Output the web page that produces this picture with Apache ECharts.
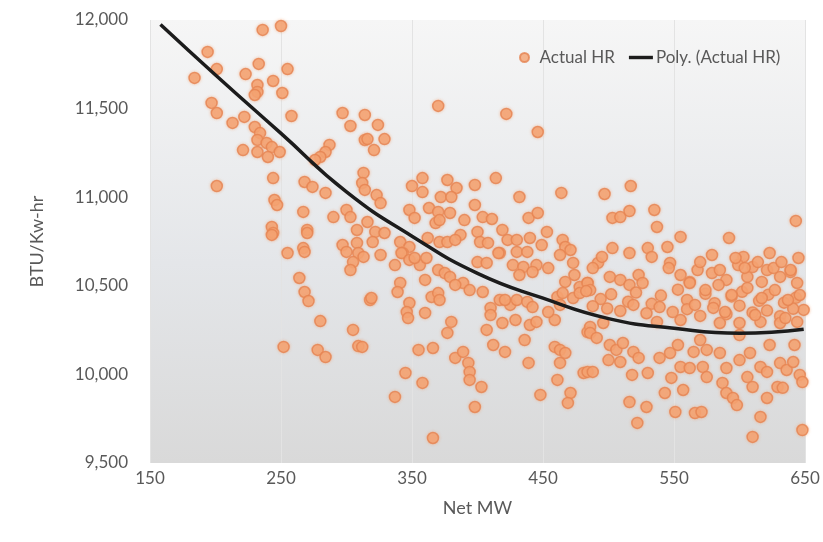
<!DOCTYPE html>
<html>
<head>
<meta charset="utf-8">
<script src="https://cdn.jsdelivr.net/npm/echarts@6/dist/echarts.min.js"></script>
<style>
  html, body { margin: 0; padding: 0; background: #fff; }
  #j_chart { width: 823px; height: 542px; }
</style>
</head>
<body>
<div id="j_chart"></div>
<script>
// scatter points (Net MW, BTU/Kw-hr)
var netMw = [
    236, 250, 194, 201, 184, 223, 233, 255, 244,
    232, 232, 230, 251, 197, 201, 213, 258, 222,
    230, 234, 232, 239, 243, 249, 232, 221, 240,
    287, 284, 280, 276, 297, 314, 303, 314,
    201, 244, 268, 274, 284, 313, 312,
    245, 247, 267, 290, 300, 303, 270, 243, 244, 308,
    243, 270, 255, 267, 268, 297, 300, 308, 309, 305, 303,
    264, 268, 271, 280, 252, 278, 284, 305, 309, 318,
    324, 316, 329, 321, 370, 422, 446, 314, 323, 326,
    350, 358, 358, 377, 384, 372, 380, 398, 414, 432, 464,
    348, 352, 363, 370, 368, 379, 371, 398, 390, 404, 411,
    419, 439, 446, 453, 465, 467, 471,
    316, 322, 329, 320, 341, 348, 343, 362, 371, 377, 387, 400, 402,
    408, 423, 430, 440, 449, 417, 430, 438,
    342, 348, 356, 361, 370, 375, 379, 326, 313, 389, 394, 383,
    341, 339, 348, 346, 347, 360, 365, 370, 319, 312,
    380, 377, 355, 366, 383, 389, 393, 394, 394, 403, 398,
    345, 358, 337, 366,
    400, 407, 416, 427, 435, 445, 442, 463, 473,
    404, 410, 417, 425, 430, 438, 442,
    407, 419, 429, 440, 445, 459, 461, 465, 473, 478, 484,
    412, 421, 439, 448, 459, 463, 467, 463, 461, 471, 469, 481, 484,
    497, 517, 503, 509, 516, 535, 537, 555, 592, 643,
    503, 492, 488, 495, 516, 530, 533, 545, 547, 546,
    603, 599, 610, 621, 626, 639, 644,
    555, 568, 579, 590, 562, 606, 617, 631,
    501, 509, 523, 526, 516, 484, 478, 486,
    483, 494, 502, 515, 521, 533, 540, 553, 560, 574, 581, 594, 602, 615, 622, 634, 643, 649,
    488, 499, 509, 519, 529, 539, 549, 560, 570, 580, 590, 600, 610, 621, 631, 641,
    486, 496, 537, 555, 585, 600, 616, 631, 644,
    486, 491, 501, 506, 511, 519, 523, 500, 509, 518, 530, 539, 547, 553, 565,
    575, 585, 590, 600, 608, 616, 621, 631, 636, 641, 646, 648,
    555, 562, 572, 575, 548, 557, 543, 587, 590, 595, 598, 606, 610, 621, 629, 633, 484, 488,
    516, 529, 522, 551, 566, 571, 616, 610, 648,
    570, 579, 585, 597, 604, 614, 623, 632, 639, 645,
    562, 574, 584, 594, 606, 617, 627, 637, 646,
    566, 589, 612, 635, 570, 600, 623, 642,
    432, 454, 467, 421, 463, 474, 410, 436, 454,
    352, 360, 337, 371, 383
];
var heatRate = [
    11944, 11966, 11820, 11723, 11673, 11695, 11752, 11723, 11656,
    11633, 11594, 11577, 11588, 11532, 11475, 11419, 11458, 11453,
    11396, 11362, 11323, 11306, 11283, 11255, 11255, 11266, 11227,
    11295, 11255, 11227, 11210, 11475, 11464, 11402, 11323,
    11063, 11108, 11086, 11058, 11024, 11137, 11080,
    10984, 10956, 10917, 10888, 10928, 10888, 10815, 10832, 10798, 10815,
    10787, 10798, 10685, 10713, 10691, 10730, 10691, 10742, 10685, 10634, 10589,
    10544, 10465, 10414, 10301, 10155, 10138, 10098, 10251, 10160, 10420,
    11408, 11328, 11328, 11266, 11515, 11470, 11368, 11041, 11012, 10967,
    11063, 11108, 11029, 11097, 11052, 11001, 11001, 11069, 11108, 11001, 11024,
    10928, 10883, 10939, 10917, 10854, 10911, 10871, 10956, 10871, 10888, 10877,
    10815, 10883, 10911, 10804, 10759, 10719, 10702,
    10860, 10804, 10798, 10747, 10747, 10719, 10685, 10770, 10747, 10747, 10787, 10804, 10747,
    10742, 10759, 10759, 10770, 10730, 10685, 10691, 10691,
    10685, 10646, 10617, 10657, 10589, 10572, 10550, 10674, 10663, 10516, 10476, 10505,
    10516, 10465, 10403, 10352, 10318, 10347, 10437, 10459, 10431, 10155,
    10296, 10234, 10138, 10149, 10093, 10127, 10065, 10014, 9969, 9929, 9816,
    10008, 9952, 9873, 9641,
    10634, 10629, 10685, 10617, 10606, 10617, 10578, 10674, 10629,
    10465, 10375, 10420, 10392, 10420, 10409, 10380,
    10251, 10290, 10307, 10279, 10296, 10307, 10437, 10459, 10431, 10493, 10516,
    10166, 10127, 10065, 9884, 10155, 10138, 10121, 10065, 9969, 9895, 9839, 10008, 10239,
    11018, 11063, 10883, 10888, 10922, 10928, 10832, 10776, 10770, 10866,
    10713, 10629, 10600, 10663, 10685, 10713, 10663, 10719, 10629, 10600,
    10663, 10617, 10606, 10589, 10600, 10578, 10516,
    10561, 10589, 10572, 10533, 10522, 10550, 10522, 10550,
    10550, 10533, 10561, 10516, 10505, 10516, 10459, 10476,
    10470, 10425, 10452, 10410, 10462, 10398, 10445, 10478, 10420, 10455, 10402, 10440, 10466, 10415, 10450, 10405, 10432, 10364,
    10385, 10372, 10358, 10392, 10345, 10380, 10352, 10368, 10330, 10375, 10340, 10388, 10350, 10360, 10328, 10370,
    10268, 10290, 10296, 10307, 10290, 10290, 10296, 10290, 10296,
    10234, 10206, 10166, 10138, 10177, 10127, 10093, 10081, 10070, 9997, 10008, 10093, 10121, 10166, 10127,
    10138, 10121, 10036, 10081, 10121, 10042, 10014, 10064, 10025, 10070, 9997, 9957,
    10042, 10036, 10042, 9985, 9980, 9912, 9895, 9952, 9895, 9867, 9827, 9985, 9929, 9867, 9929, 9924, 10014, 10014,
    9844, 9816, 9726, 9788, 9782, 9788, 9760, 9647, 9686,
    10634, 10674, 10589, 10657, 10601, 10634, 10685, 10634, 10589, 10657,
    10516, 10476, 10505, 10448, 10488, 10431, 10476, 10420, 10448,
    10392, 10352, 10335, 10318, 10194, 10222, 10166, 10166,
    10561, 10600, 10522, 10420, 10392, 10561, 10335, 10194, 10352,
    10657, 10533, 10617, 10420, 10759
];

// trend line samples
var trendMw = [158, 200, 250, 300, 350, 400, 450, 500, 550, 600, 649];
var trendHr = [11975, 11690, 11360, 11030, 10780, 10570, 10430, 10315, 10260, 10232, 10255];

var scatterData = netMw.map(function (mw, i) {
    return [mw, heatRate[i]];
});
var trendData = trendMw.map(function (mw, i) {
    return [mw, trendHr[i]];
});

var textColor = '#595959';
var fontFamily = 'Lato, "Open Sans", sans-serif';

var chart = echarts.init(document.getElementById('j_chart'));
var option = {
    backgroundColor: '#ffffff',
    animation: false,
    textStyle: { fontFamily: fontFamily },
    grid: {
        left: 150,
        right: 18,
        top: 20,
        bottom: 79,
        show: true,
        borderWidth: 0,
        backgroundColor: new echarts.graphic.LinearGradient(0, 0, 0, 1, [
            { offset: 0, color: '#f6f6f6' },
            { offset: 0.55, color: '#e4e6e9' },
            { offset: 1, color: '#d9d9d9' }
        ])
    },
    legend: {
        left: 514,
        top: 44,
        itemGap: 14,
        itemWidth: 24,
        itemHeight: 9,
        symbolKeepAspect: true,
        textStyle: { color: textColor, fontSize: 17, fontFamily: fontFamily, padding: [0, 0, 0, -2] },
        data: [
            { name: 'Actual HR', icon: 'circle' },
            { name: 'Poly. (Actual HR)', icon: 'path://M0,0H28V4H0Z' }
        ]
    },
    xAxis: {
        type: 'value',
        min: 150,
        max: 650,
        interval: 100,
        name: 'Net MW',
        nameLocation: 'middle',
        nameGap: 36,
        nameTextStyle: { color: textColor, fontSize: 18 },
        axisLine: { show: false },
        axisTick: { show: false },
        axisLabel: { color: textColor, fontSize: 17, margin: 7 },
        splitLine: { show: true, lineStyle: { color: '#e3e3e3', width: 1 } }
    },
    yAxis: {
        type: 'value',
        min: 9500,
        max: 12000,
        interval: 500,
        name: 'BTU/Kw-hr',
        nameLocation: 'middle',
        nameGap: 104,
        nameTextStyle: { color: textColor, fontSize: 18 },
        axisLine: { show: false },
        axisTick: { show: false },
        axisLabel: {
            color: textColor,
            fontSize: 17,
            margin: 22,
            formatter: function (v) {
                return v.toLocaleString('en-US');
            }
        },
        splitLine: { show: false }
    },
    series: [
        {
            name: 'Actual HR',
            type: 'scatter',
            symbolSize: 11,
            data: scatterData,
            itemStyle: {
                color: '#f4a272',
                borderColor: '#e58250',
                borderWidth: 1.5,
                shadowBlur: 3,
                shadowColor: 'rgba(245,160,110,0.7)'
            },
            z: 2
        },
        {
            name: 'Poly. (Actual HR)',
            type: 'line',
            smooth: true,
            symbol: 'none',
            data: trendData,
            lineStyle: { color: '#1c1c1c', width: 3.5 },
            itemStyle: { color: '#1c1c1c' },
            z: 3
        }
    ]
};
chart.setOption(option);
</script>
</body>
</html>
